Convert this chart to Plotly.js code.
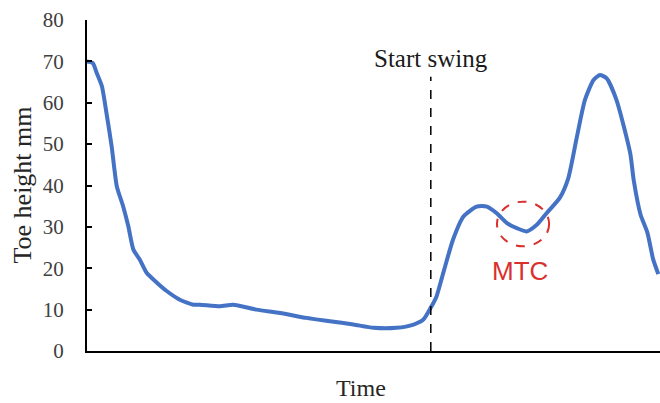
<!DOCTYPE html>
<html>
<head>
<meta charset="utf-8">
<script src="https://cdn.plot.ly/plotly-3.0.1.min.js"></script>
<style>html,body{margin:0;padding:0;background:#fff;}#chart{width:660px;height:403px;}</style>
</head>
<body>
<div id="chart"></div>
<script>
// Time (arbitrary units, 0-100) and toe height (mm)
const timeValues = [0, 1.0, 1.7, 2.6, 3.4, 4.3, 5.2, 6.3, 7.2, 8.1, 9.2, 10.4, 12.2, 13.9, 16.2, 18.6, 19.7, 23.2, 25.5, 29.6, 33.7, 38.3, 42.4, 46.5, 50.0, 54.0, 57.0, 58.7, 60.0, 61.0, 62.2, 63.9, 65.7, 68.0, 69.8, 71.5, 73.3, 75.0, 76.7, 78.5, 80.2, 82.5, 84.0, 85.5, 86.9, 88.4, 89.5, 90.7, 92.4, 94.8, 95.4, 96.6, 97.8, 98.8, 99.7];
const toeHeight = [70.0, 69.6, 67.2, 64.0, 57.5, 49.5, 39.8, 35.0, 30.2, 24.5, 22.1, 18.9, 16.5, 14.5, 12.4, 11.2, 11.2, 10.8, 11.2, 10.0, 9.2, 8.0, 7.2, 6.4, 5.6, 5.6, 6.4, 7.6, 10.5, 13.2, 19.0, 27.0, 32.5, 34.9, 34.9, 33.3, 30.9, 29.7, 28.9, 30.5, 33.3, 37.0, 41.8, 51.8, 60.7, 65.5, 66.7, 65.9, 60.7, 47.8, 41.4, 33.0, 28.6, 22.2, 18.6];
const yTicks = [0, 10, 20, 30, 40, 50, 60, 70, 80];
const startSwingTime = 60.0;
const startSwingTop = 66.3;
const mtcCenter = [76.1, 30.7];
const mtcRadius = [4.55, 5.4];
const labels = {yTitle: "Toe height mm", xTitle: "Time", swing: "Start swing", mtc: "MTC"};

const serif = "'Liberation Serif', 'Times New Roman', serif";
const red = "#d9312e";

const trace = {
  x: timeValues, y: toeHeight, type: "scatter", mode: "lines",
  line: {color: "#4472C4", width: 4, shape: "spline", smoothing: 0.6},
  hoverinfo: "skip"
};

const layout = {
  width: 660, height: 403,
  margin: {l: 87, r: 0, t: 20, b: 52},
  paper_bgcolor: "#ffffff", plot_bgcolor: "#ffffff",
  showlegend: false,
  xaxis: {
    range: [0, 100], showgrid: false, zeroline: false,
    showline: true, linecolor: "#000000", linewidth: 2,
    showticklabels: false, ticks: ""
  },
  yaxis: {
    range: [0, 80], tickvals: yTicks, ticktext: yTicks.map(String),
    showgrid: false, zeroline: false,
    showline: true, linecolor: "#000000", linewidth: 2,
    ticks: "inside", ticklen: 5, tickwidth: 2, tickcolor: "#000000",
    ticklabelstandoff: 17,
    tickfont: {family: serif, size: 21, color: "#404040"}
  },
  shapes: [
    {type: "line", xref: "x", yref: "y", x0: startSwingTime, x1: startSwingTime, y0: 0, y1: startSwingTop,
     line: {color: "#000000", width: 1.5, dash: "dash"}},
    {type: "circle", xref: "x", yref: "y",
     x0: mtcCenter[0] - mtcRadius[0], x1: mtcCenter[0] + mtcRadius[0],
     y0: mtcCenter[1] - mtcRadius[1], y1: mtcCenter[1] + mtcRadius[1],
     line: {color: red, width: 2, dash: "dash"}}
  ],
  annotations: [
    {text: labels.swing, xref: "x", yref: "paper", x: startSwingTime, y: 1, yshift: -38,
     xanchor: "center", yanchor: "middle", showarrow: false,
     font: {family: serif, size: 25, color: "#1a1a1a"}},
    {text: labels.mtc, xref: "x", yref: "y", x: 75.6, y: 19.3,
     xanchor: "center", yanchor: "middle", showarrow: false,
     font: {family: "'Liberation Sans', Arial, sans-serif", size: 26, color: red}},
    {text: labels.yTitle, xref: "paper", yref: "paper", x: 0, xshift: -65, y: 0.5, yshift: 0,
     xanchor: "center", yanchor: "middle", textangle: -90, showarrow: false,
     font: {family: serif, size: 26, color: "#262626"}},
    {text: labels.xTitle, xref: "paper", yref: "paper", x: 0.479, y: 0, yshift: -22,
     xanchor: "center", yanchor: "top", showarrow: false,
     font: {family: serif, size: 24, color: "#262626"}}
  ]
};

Plotly.newPlot("chart", [trace], layout, {staticPlot: true, displayModeBar: false});
</script>
</body>
</html>
